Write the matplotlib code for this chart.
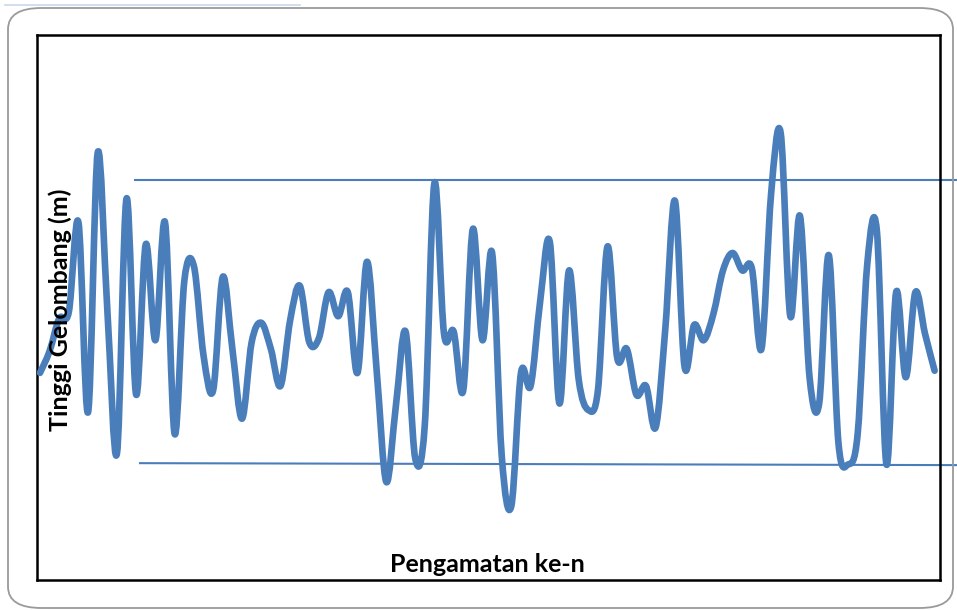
import numpy as np
import matplotlib
matplotlib.use('Agg')
import matplotlib.pyplot as plt
from matplotlib.path import Path
from matplotlib.patches import PathPatch, FancyBboxPatch

# tinggi gelombang tiap pengamatan (m)
pengamatan = np.arange(1, 95)
tinggi = [0.95, 1.05, 1.20, 1.23, 1.64, 0.77, 1.96, 1.24, 0.58, 1.75,
          0.85, 1.54, 1.10, 1.64, 0.67, 1.37, 1.44, 1.03, 0.87, 1.39,
          1.06, 0.74, 1.09, 1.18, 1.06, 0.89, 1.19, 1.35, 1.09, 1.11,
          1.32, 1.21, 1.32, 0.95, 1.46, 0.96, 0.45, 0.80, 1.14, 0.56,
          0.71, 1.82, 1.13, 1.14, 0.87, 1.61, 1.10, 1.50, 0.57, 0.34,
          0.95, 0.89, 1.28, 1.55, 0.81, 1.42, 0.92, 0.78, 0.87, 1.53,
          1.02, 1.06, 0.85, 0.89, 0.70, 1.15, 1.74, 0.98, 1.17, 1.10,
          1.22, 1.42, 1.50, 1.42, 1.43, 1.06, 1.77, 2.05, 1.21, 1.67,
          0.93, 0.81, 1.49, 0.63, 0.53, 0.67, 1.45, 1.60, 0.53, 1.32,
          0.93, 1.32, 1.13, 0.96]

# garis batas atas / bawah
batas_atas_x = [10.9, 96.3]
batas_atas = [1.835, 1.835]
batas_bawah_x = [11.4, 96.3]
batas_bawah = [0.536, 0.527]

biru = '#4a7ebb'


def smooth_path(x, y):
    # bezier ala garis "smoothed" excel
    pts = np.column_stack([x, y]).astype(float)
    n = len(pts)
    verts = [pts[0]]
    codes = [Path.MOVETO]
    for i in range(n - 1):
        p0 = pts[max(i - 1, 0)]
        p1 = pts[i]
        p2 = pts[i + 1]
        p3 = pts[min(i + 2, n - 1)]
        verts += [p1 + (p2 - p0) / 6, p2 - (p3 - p1) / 6, p2]
        codes += [Path.CURVE4] * 3
    return Path(verts, codes)


fig = plt.figure(figsize=(9.57, 6.10), dpi=100)
W, H = 957, 610

# bingkai luar membulat
frame = FancyBboxPatch((8 / W, 2 / H), 945 / W, 600 / H,
                       boxstyle='round,pad=0,rounding_size=0.035',
                       transform=fig.transFigure, fill=False,
                       edgecolor='#9a9a9a', lw=1.3)
fig.patches.append(frame)
fig.add_artist(plt.Line2D([5 / W, 300 / W], [1 - 5 / H, 1 - 5 / H],
                          transform=fig.transFigure, color='#c9d7ea', lw=1.2))

ax = fig.add_axes([37 / W, 1 - 580 / H, 903 / W, 545 / H])
ax.add_patch(PathPatch(smooth_path(pengamatan, tinggi), fill=False,
                       edgecolor=biru, lw=4.8, capstyle='round',
                       joinstyle='round', zorder=3))
ax.plot(batas_atas_x, batas_atas, color=biru, lw=1.5, clip_on=False)
ax.plot(batas_bawah_x, batas_bawah, color=biru, lw=1.5, clip_on=False)

ax.set_xlim(0.69, 94.56)
ax.set_ylim(0, 2.5)
ax.set_xticks([])
ax.set_yticks([])
for s in ax.spines.values():
    s.set_linewidth(1.8)
    s.set_color('black')

fig.text(487 / W, 1 - 565 / H, 'Pengamatan ke-n', ha='center', va='center',
         fontsize=18, fontweight='bold', family='Lato')
fig.text(60 / W, 1 - 310 / H, 'Tinggi Gelombang (m)', ha='center',
         va='center', rotation=90, fontsize=18, fontweight='bold',
         family='Lato', zorder=5)

fig.savefig('out.png', dpi=100)
